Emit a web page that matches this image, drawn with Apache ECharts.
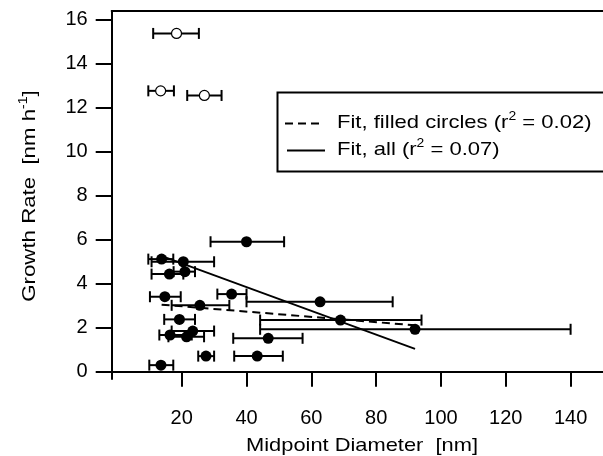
<!DOCTYPE html>
<html>
<head>
<meta charset="utf-8">
<script src="https://cdn.jsdelivr.net/npm/echarts@6/dist/echarts.min.js"></script>
<style>html,body{margin:0;padding:0;background:#fff;}#c{width:603px;height:456px;}</style>
</head>
<body>
<div id="c"></div>
<script>
// Filled circles: x (midpoint diameter), y (growth rate), error bar low/high in x
const filledX   = [40.0, 13.8, 20.5, 16.2, 21.0, 14.8, 25.6, 35.4, 62.7, 69.0, 92.0, 19.3, 16.4, 21.5, 23.4, 27.5, 43.3, 46.7, 13.6];
const filledY   = [5.91, 5.12, 5.00, 4.44, 4.55, 3.41, 3.02, 3.53, 3.18, 2.35, 1.93, 2.38, 1.67, 1.59, 1.85, 0.71, 0.71, 1.52, 0.30];
const filledLow = [28.9, 9.7, 10.7, 10.7, 17.5, 10.2, 16.9, 31.0, 40.0, 44.2, 44.2, 14.6, 13.1, 15.9, 16.9, 25.1, 36.2, 35.9, 10.0];
const filledHigh= [51.6, 17.4, 30.0, 20.5, 24.1, 19.7, 34.7, 40.0, 85.1, 94.0, 140.0, 24.1, 23.1, 26.9, 30.0, 30.0, 51.2, 57.3, 17.4];
// Open circles
const openX    = [18.4, 13.5, 27.0];
const openY    = [15.38, 12.77, 12.56];
const openLow  = [11.2, 9.7, 21.7];
const openHigh = [25.3, 17.6, 32.3];
// Fit lines (endpoints)
const fitFilledX = [13.8, 92.0];
const fitFilledY = [3.05, 2.11];
const fitAllX = [13.5, 92.0];
const fitAllY = [5.28, 1.04];
// Ticks
const xTicks = [20, 40, 60, 80, 100, 120, 140];
const yTicks = [0, 2, 4, 6, 8, 10, 12, 14, 16];

const FONT = 'Liberation Sans, Arial, sans-serif';
const chart = echarts.init(document.getElementById('c'), null, {renderer: 'canvas'});

function zip(a, b, c, d) { return a.map((v, i) => d ? [v, b[i], c[i], d[i]] : [v, b[i]]); }

function errRender(params, api) {
  const y = api.value(1), lo = api.value(2), hi = api.value(3);
  const p1 = api.coord([lo, y]), p2 = api.coord([hi, y]);
  const st = {stroke: '#000', lineWidth: 2};
  return {type: 'group', children: [
    {type: 'line', shape: {x1: p1[0], y1: p1[1], x2: p2[0], y2: p2[1]}, style: st},
    {type: 'line', shape: {x1: p1[0], y1: p1[1] - 5.5, x2: p1[0], y2: p1[1] + 5.5}, style: st},
    {type: 'line', shape: {x1: p2[0], y1: p2[1] - 5.5, x2: p2[0], y2: p2[1] + 5.5}, style: st}
  ]};
}

const supRich = {
  n: {fontSize: 19, fontFamily: FONT, color: '#000'},
  s: {fontSize: 12, fontFamily: FONT, color: '#000', verticalAlign: 'top', padding: [0, 0, 12, 0]}
};

const option = {
  animation: false,
  backgroundColor: '#fff',
  grid: {left: 111.7, right: 0, top: 11, bottom: 77},
  xAxis: [{
    type: 'value', min: -1.6, max: 150,
    axisLine: {show: true, lineStyle: {color: '#000', width: 2}},
    axisTick: {show: true, length: 15, lineStyle: {color: '#000', width: 2}, customValues: xTicks},
    axisLabel: {show: true, color: '#000', fontSize: 20, fontFamily: FONT, margin: 29, customValues: xTicks},
    splitLine: {show: false}
  }, {
    type: 'value', min: -1.6, max: 150, position: 'top',
    axisLine: {show: true, onZero: false, lineStyle: {color: '#000', width: 2}},
    axisTick: {show: false}, axisLabel: {show: false}, splitLine: {show: false}
  }],
  yAxis: {
    type: 'value', min: -0.33, max: 16.4,
    axisLine: {show: true, onZero: false, lineStyle: {color: '#000', width: 2}},
    axisTick: {show: true, length: 16, lineStyle: {color: '#000', width: 2}, customValues: yTicks},
    axisLabel: {show: true, color: '#000', fontSize: 20, fontFamily: FONT, margin: 24, customValues: yTicks},
    splitLine: {show: false}
  },
  series: [
    {type: 'custom', renderItem: errRender, data: zip(filledX, filledY, filledLow, filledHigh),
     encode: {x: [0, 2, 3], y: 1}, z: 2, silent: true},
    {type: 'custom', renderItem: errRender, data: zip(openX, openY, openLow, openHigh),
     encode: {x: [0, 2, 3], y: 1}, z: 2, silent: true},
    {type: 'line', data: zip(fitFilledX, fitFilledY), showSymbol: false, symbol: 'none', z: 3,
     lineStyle: {color: '#000', width: 2, type: [8, 5]}},
    {type: 'line', data: zip(fitAllX, fitAllY), showSymbol: false, symbol: 'none', z: 3,
     lineStyle: {color: '#000', width: 1.8}},
    {type: 'scatter', data: zip(filledX, filledY), symbol: 'circle', symbolSize: 11, z: 4,
     itemStyle: {color: '#000', opacity: 1}},
    {type: 'scatter', data: zip(openX, openY), symbol: 'circle', symbolSize: 10, z: 4,
     itemStyle: {color: '#fff', borderColor: '#000', borderWidth: 1.2, opacity: 1}}
  ],
  graphic: [
    {type: 'rect', shape: {x: 277.5, y: 92.5, width: 340, height: 79}, z: 10,
     style: {fill: '#fff', stroke: '#000', lineWidth: 2}},
    {type: 'line', shape: {x1: 285, y1: 123.5, x2: 323, y2: 123.5}, z: 11,
     style: {stroke: '#000', lineWidth: 2, lineDash: [8, 5]}},
    {type: 'line', shape: {x1: 287, y1: 150.5, x2: 325, y2: 150.5}, z: 11,
     style: {stroke: '#000', lineWidth: 2}},
    {type: 'text', x: 337, y: 123, z: 11, scaleX: 1.16,
     style: {text: '{n|Fit, filled circles (r}{s|2}{n| = 0.02)}', rich: supRich, verticalAlign: 'middle', align: 'left', fill: '#000'}},
    {type: 'text', x: 337, y: 150, z: 11, scaleX: 1.16,
     style: {text: '{n|Fit, all (r}{s|2}{n| = 0.07)}', rich: supRich, verticalAlign: 'middle', align: 'left', fill: '#000'}},
    {type: 'text', x: 30, y: 196, rotation: Math.PI / 2, scaleX: 1.17, z: 11,
     style: {text: '{n|Growth Rate  [nm h}{s|-1}{n|]}', rich: supRich, verticalAlign: 'middle', align: 'center', fill: '#000'}},
    {type: 'text', x: 362, y: 446, z: 11, scaleX: 1.15,
     style: {text: 'Midpoint Diameter  [nm]', fontSize: 19, fontFamily: FONT, verticalAlign: 'middle', align: 'center', fill: '#000'}}
  ]
};
chart.setOption(option);
</script>
</body>
</html>
